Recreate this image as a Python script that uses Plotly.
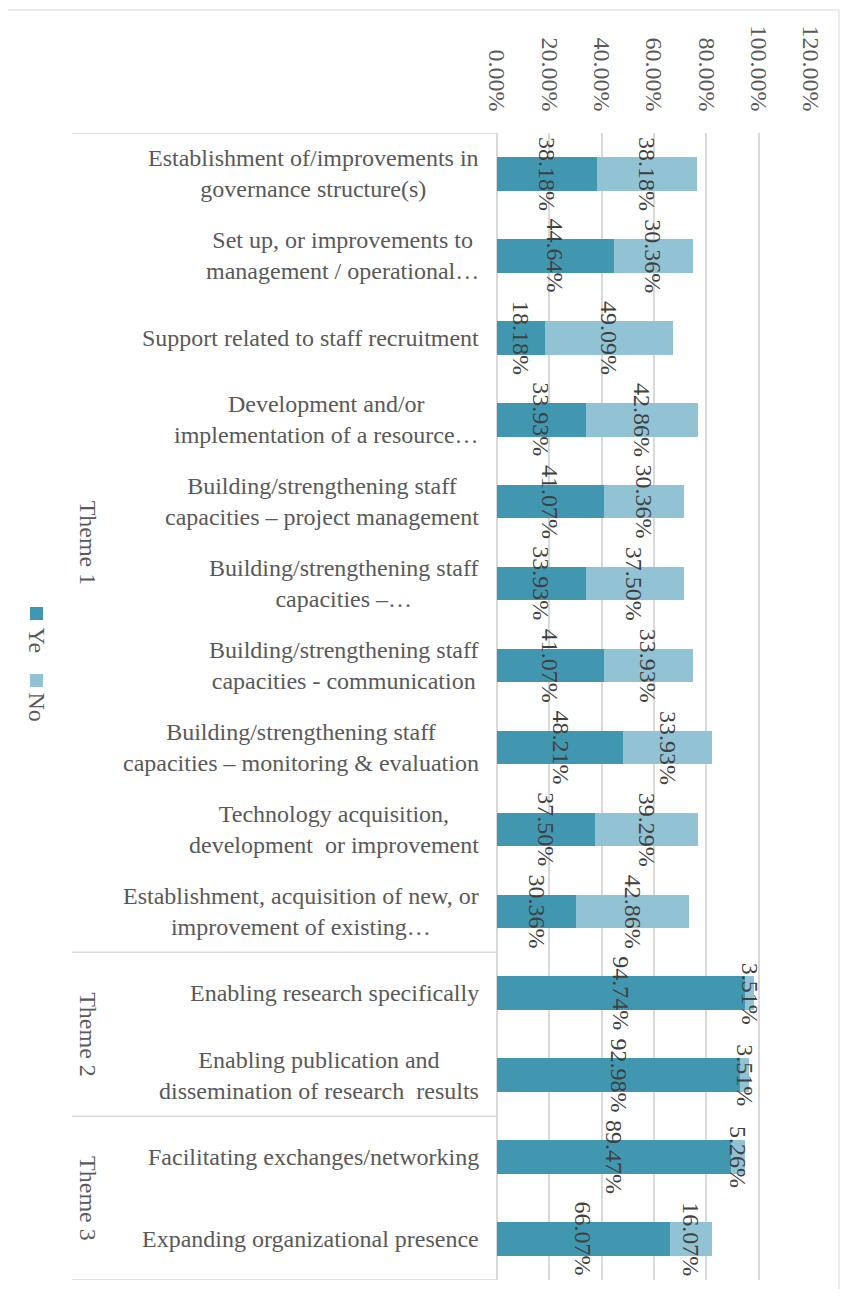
import plotly.graph_objects as go

# data
categories = [
    "Establishment of/improvements in governance structure(s)",
    "Set up, or improvements to management / operational",
    "Support related to staff recruitment",
    "Development and/or implementation of a resource",
    "Building/strengthening staff capacities – project management",
    "Building/strengthening staff capacities –",
    "Building/strengthening staff capacities - communication",
    "Building/strengthening staff capacities – monitoring & evaluation",
    "Technology acquisition, development  or improvement",
    "Establishment, acquisition of new, or improvement of existing",
    "Enabling research specifically",
    "Enabling publication and dissemination of research  results",
    "Facilitating exchanges/networking",
    "Expanding organizational presence",
]
category_labels = [
    "Establishment of/improvements in<br>governance structure(s)",
    "Set up, or improvements to<br>management / operational…",
    "Support related to staff recruitment",
    "Development and/or<br>implementation of a resource…",
    "Building/strengthening staff<br>capacities – project management",
    "Building/strengthening staff<br>capacities –…",
    "Building/strengthening staff<br>capacities - communication",
    "Building/strengthening staff<br>capacities – monitoring & evaluation",
    "Technology acquisition,<br>development  or improvement",
    "Establishment, acquisition of new, or<br>improvement of existing…",
    "Enabling research specifically",
    "Enabling publication and<br>dissemination of research  results",
    "Facilitating exchanges/networking",
    "Expanding organizational presence",
]
yes_values = [38.18, 44.64, 18.18, 33.93, 41.07, 33.93, 41.07, 48.21, 37.50, 30.36, 94.74, 92.98, 89.47, 66.07]
no_values = [38.18, 30.36, 49.09, 42.86, 30.36, 37.50, 33.93, 33.93, 39.29, 42.86, 3.51, 3.51, 5.26, 16.07]
themes = ["Theme 1", "Theme 2", "Theme 3"]
theme_sizes = [10, 2, 2]
series_names = ["Ye", "No"]
colors = ["#4196b0", "#92c3d4"]

FONT = "Liberation Serif, Times New Roman, serif"
GRID = "#d9d9d9"
FS = 24

# plot area in figure pixels (page body has an 8px margin)
L, T, W, H = 489, 125, 314, 1147
FW, FH = 832, 1281


def sx(x):
    return (x - 8 - L) / W


def sy(y):
    return (T + H - (y - 8)) / H


fig = go.Figure()
for name, vals, col in zip(series_names, [yes_values, no_values], colors):
    fig.add_trace(go.Bar(
        y=categories, x=vals, name=name, orientation="h",
        marker=dict(color=col, line=dict(width=0)),
        showlegend=False, hoverinfo="x+y",
    ))

annotations = []
# data labels, rotated
for cat, y_, n_ in zip(categories, yes_values, no_values):
    for xpos, v in [(y_ / 2, y_), (y_ + n_ / 2, n_)]:
        annotations.append(dict(
            x=xpos, y=cat, xref="x", yref="y", text=f"{v:.2f}%",
            showarrow=False, textangle=90, xanchor="center", yanchor="middle",
            font=dict(family=FONT, size=FS, color="#404040"),
        ))

# category labels
for cat, lab in zip(categories, category_labels):
    annotations.append(dict(
        x=0, y=cat, xref="paper", yref="y", text=lab, align="center",
        xanchor="right", yanchor="middle", xshift=-16, showarrow=False,
        font=dict(family=FONT, size=FS, color="#595959"),
    ))

# theme labels and separators
shapes = []
start = -0.5
for th, n in zip(themes, theme_sizes):
    annotations.append(dict(
        x=sx(88), y=start + n / 2, xref="paper", yref="y", text=th,
        showarrow=False, textangle=90, xanchor="center", yanchor="middle",
        font=dict(family=FONT, size=FS, color="#595959"),
    ))
    start += n
for yb in [-0.5, 9.5, 11.5, 13.5]:
    shapes.append(dict(type="line", xref="paper", yref="y", x0=sx(72), x1=0,
                       y0=yb, y1=yb, line=dict(color=GRID, width=1.5)))

# rotated legend
for name, col, sq_top, txt_mid in zip(series_names, colors, [607, 674], [640, 707]):
    shapes.append(dict(type="rect", xref="paper", yref="paper",
                       x0=sx(30), x1=sx(43), y0=sy(sq_top + 13), y1=sy(sq_top),
                       fillcolor=col, line=dict(width=0)))
    annotations.append(dict(
        x=sx(36.5), y=sy(txt_mid), xref="paper", yref="paper", text=name,
        showarrow=False, textangle=90, xanchor="center", yanchor="middle",
        font=dict(family=FONT, size=FS, color="#595959"),
    ))

# chart border
shapes.append(dict(type="rect", xref="paper", yref="paper",
                   x0=sx(-20), x1=sx(839), y0=sy(1320), y1=sy(10),
                   line=dict(color=GRID, width=1), layer="below"))

fig.update_layout(
    barmode="stack", bargap=0.59,
    width=FW, height=FH,
    margin=dict(l=L, r=FW - L - W, t=T, b=FH - T - H),
    paper_bgcolor="white", plot_bgcolor="white",
    annotations=annotations, shapes=shapes,
    xaxis=dict(
        side="top", range=[0, 120], dtick=20, tickformat=".2f", ticksuffix="%",
        tickangle=90, showgrid=True, gridcolor=GRID, gridwidth=2,
        zeroline=True, zerolinecolor=GRID, zerolinewidth=2,
        showline=False, ticks="", ticklabelstandoff=17,
        tickfont=dict(family=FONT, size=FS, color="#595959"),
    ),
    yaxis=dict(
        categoryorder="array", categoryarray=categories,
        range=[13.5, -0.5], showticklabels=False, showgrid=False,
        showline=False, ticks="",
    ),
)

fig.write_html("out.html")
